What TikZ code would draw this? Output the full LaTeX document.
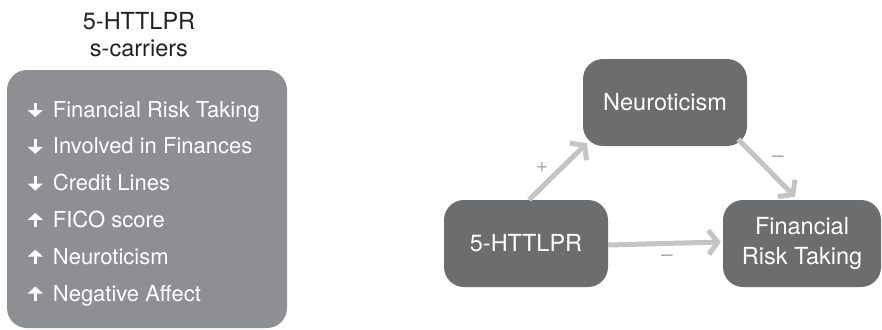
\documentclass[tikz,border=0pt]{standalone}
\usepackage{fontspec}
\setmainfont{TeX Gyre Heros}
\usetikzlibrary{arrows.meta}
\definecolor{listgray}{HTML}{8E8F93}
\definecolor{boxgray}{HTML}{6C6D6F}
\definecolor{arrgray}{HTML}{C4C4C4}
\definecolor{labgray}{HTML}{A8A8A8}
\definecolor{titlecol}{HTML}{222222}
\tikzset{
  listbox/.style={fill=listgray, rounded corners=20pt, draw=none},
  concept/.style={fill=boxgray, rounded corners=20pt, draw=none, text=white,
    minimum height=87pt, inner sep=0pt, align=center,
    font=\fontsize{23.5}{30}\selectfont},
  listitem/.style={anchor=base west, text=white, inner sep=0pt,
    font=\fontsize{22}{25}\selectfont},
  bullet/.style={draw=white, line width=3.2pt,
    -{Triangle[length=7pt,width=15pt]}},
  link/.style={draw=arrgray, line width=5pt,
    -{Straight Barb[length=9pt,width=24pt]}},
  sign/.style={text=labgray, inner sep=0pt, font=\fontsize{21}{21}\selectfont}
}
\begin{document}
\begin{tikzpicture}[x=1pt,y=-1pt]
\useasboundingbox (0,0) rectangle (882,329);
% left panel
\node[text=titlecol, align=center, inner sep=0pt, anchor=base,
  font=\fontsize{23.5}{27.4}\selectfont] (title) at (139,56.9) {5-HTTLPR\\s-carriers};
\path[listbox] (7,70) rectangle (287,328);
\node[listitem] (i1) at (52.7,117) {Financial Risk Taking};
\node[listitem] (i2) at (52.7,153.8) {Involved in Finances};
\node[listitem] (i3) at (52.7,190.6) {Credit Lines};
\node[listitem] (i4) at (52.7,227.4) {FICO score};
\node[listitem] (i5) at (52.7,264.2) {Neuroticism};
\node[listitem] (i6) at (52.7,301) {Negative Affect};
\foreach \i in {1,2,3}{
  \draw[bullet] ([shift={(-17.4,-14.5)}]i\i.base west) -- ([shift={(-17.4,0)}]i\i.base west);
}
\foreach \i in {4,5,6}{
  \draw[bullet] ([shift={(-17.4,0)}]i\i.base west) -- ([shift={(-17.4,-14.5)}]i\i.base west);
}
% right panel
\node[concept, minimum width=164pt] (n) at (665,102.5) {Neuroticism};
\node[concept, minimum width=164pt] (h) at (526,243.5) {5-HTTLPR};
\node[concept, minimum width=158pt] (f) at (802,243.5) {Financial\\Risk Taking};
\draw[link] ([xshift=3pt]h.north) -- ([shift={(4,-3)}]n.south west);
\draw[link] ([shift={(-9,-7)}]n.south east) -- ([shift={(-7,-3)}]f.north);
\draw[link] ([yshift=-1.5pt]h.east) -- ([shift={(-2,-1.5)}]f.west);
\node[sign] (s1) at (542,168) {+};
\node[sign] (s2) at (778,159) {–};
\node[sign] (s3) at (667,258) {–};
\end{tikzpicture}
\end{document}
